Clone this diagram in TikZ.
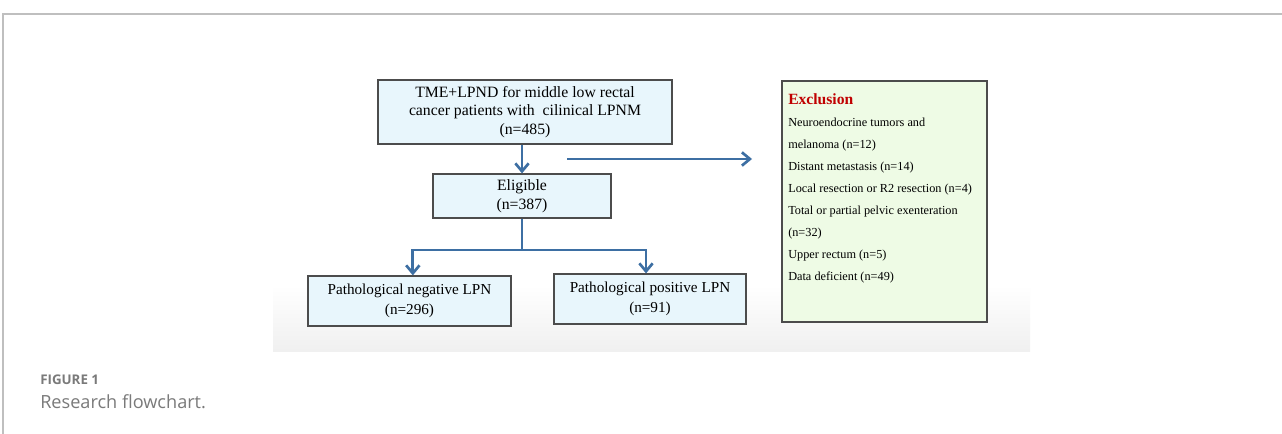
\documentclass[tikz,border=0pt]{standalone}
\usepackage{fontspec}
\setmainfont{Liberation Serif}
\newfontfamily\capfont{Open Sans}
\usetikzlibrary{arrows.meta}
\definecolor{flowblue}{HTML}{3D6FA3}
\definecolor{boxblue}{HTML}{E8F6FC}
\definecolor{boxgreen}{HTML}{EEFBE5}
\definecolor{exred}{HTML}{C00000}
\definecolor{capgray}{HTML}{7A7A7A}
\newcommand\pxu{0.75pt}
\tikzset{
  flowbox/.style={rectangle, draw=black!70, line width=0.9pt, fill=boxblue, align=center, inner sep=0pt},
  flowarrow/.style={draw=flowblue, line width=2.2pt, -{Straight Barb[length=6pt,width=10pt,line width=2pt]}},
}
\begin{document}
\begin{tikzpicture}[x=0.75pt, y=-0.75pt]
	\useasboundingbox (0,0) rectangle (1282,434);
	\fill[white] (0,0) rectangle (1282,434);

	% figure frame and background
	\draw[black!25, line width=0.8pt] (3,434) -- (3,14) -- (1282,14);
	\shade[top color=white, bottom color=black!6] (273,285) rectangle (1030,352);

	% main flow
	\node[flowbox, minimum width=294*\pxu, minimum height=64*\pxu, font=\fontsize{11.8}{14}\selectfont] (total) at (525,112)
		{TME+LPND for middle low rectal\\cancer patients with \ cilinical LPNM\\(n=485)};
	\node[flowbox, minimum width=178*\pxu, minimum height=44*\pxu, font=\fontsize{11.8}{14}\selectfont] (elig) at (522,196)
		{Eligible\\(n=387)};
	\node[flowbox, minimum width=203*\pxu, minimum height=50*\pxu, font=\fontsize{11.4}{15}\selectfont] (neg) at (409.5,301)
		{Pathological negative LPN\\(n=296)};
	\node[flowbox, minimum width=192*\pxu, minimum height=50*\pxu, font=\fontsize{11.4}{15}\selectfont] (pos) at (650,299)
		{Pathological positive LPN\\(n=91)};

	% exclusion box
	\node[rectangle, draw=black!70, line width=0.9pt, fill=boxgreen, minimum width=205*\pxu, minimum height=241*\pxu, inner sep=0pt] (excl) at (884.5,201.5) {};
	\node[anchor=north west, align=left, inner sep=0pt, font=\fontsize{9.2}{16.5}\selectfont] (excltext) at (788,93)
		{{\fontsize{11.7}{12}\selectfont\bfseries\color{exred}Exclusion}\\[0pt]
		Neuroendocrine tumors and\\
		melanoma (n=12)\\
		Distant metastasis (n=14)\\
		Local resection or R2 resection (n=4)\\
		Total or partial pelvic exenteration\\
		(n=32)\\
		Upper rectum (n=5)\\
		Data deficient (n=49)};

	% connectors
	\draw[flowarrow] (elig.north |- total.south) -- (elig.north);
	\coordinate (exfrom) at (567,159);
	\coordinate (exto) at (752,159);
	\draw[flowarrow] (exfrom) -- (exto);
	\coordinate (split) at (522,250);
	\draw[draw=flowblue, line width=2.2pt] (elig.south) -- (split);
	\draw[flowarrow] (split) -| ([xshift=2.5]neg.north);
	\draw[flowarrow] (split) -| ([xshift=-3]pos.north);

	% caption
	\node[anchor=west, inner sep=0pt, text=capgray, font=\capfont\fontsize{10}{12}\selectfont\bfseries] (figno) at (40,380) {FIGURE 1};
	\node[anchor=west, inner sep=0pt, text=capgray, font=\capfont\fontsize{13.6}{16}\selectfont] (figcap) at (40,402) {Research flowchart.};
\end{tikzpicture}
\end{document}
